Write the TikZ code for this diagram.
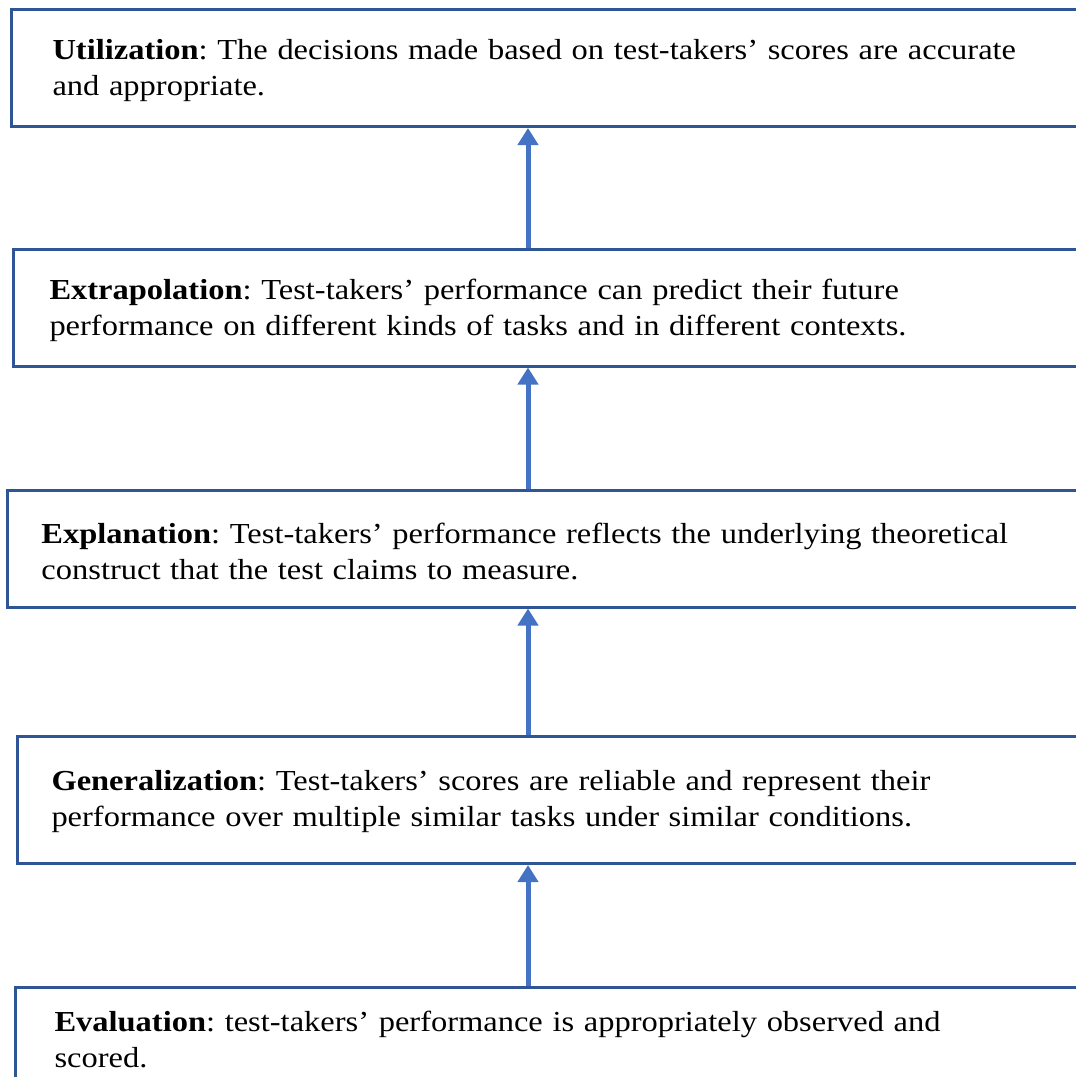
\documentclass[tikz,border=0pt]{standalone}
\usepackage{fontspec}
\setmainfont{Liberation Serif}[FakeStretch=1.12]
\usepackage{xcolor}
\usetikzlibrary{positioning, arrows.meta}
\frenchspacing

\definecolor{boxblue}{HTML}{2F5597}
\definecolor{arrowblue}{HTML}{4472C4}

\begin{document}
\begin{tikzpicture}[x=1pt, y=1pt, font=\fontsize{29}{36}\selectfont,
    claim/.style={draw=boxblue, line width=3pt, rectangle, anchor=west, align=left,
        text width=1150pt, minimum height=117pt, inner ysep=0pt,
        execute at begin node={\rule{0pt}{26pt}},
        execute at end node={\rule[-#1]{0pt}{0pt}}},
    claim/.default=6pt,
    flow/.style={arrowblue, line width=5pt, -{Triangle[length=17pt, width=20pt]}}]
    \useasboundingbox (0,0) rectangle (1076,-1077);
    \coordinate (spine) at (528,0);
    \node[claim, inner xsep=41pt] (uti) at (10,-68) {\textbf{Utilization}: The decisions made based on test-takers’ scores are accurate\\and appropriate.};
    \node[claim, inner xsep=36pt] (ext) at (12,-307.5) {\textbf{Extrapolation}: Test-takers’ performance can predict their future\\performance on different kinds of tasks and in different contexts.};
    \node[claim=0pt, inner xsep=34pt] (expl) at (6,-548.5) {\textbf{Explanation}: Test-takers’ performance reflects the underlying theoretical\\construct that the test claims to measure.};
    \node[claim=10pt, inner xsep=34pt, minimum height=127pt] (gen) at (16,-800) {\textbf{Generalization}: Test-takers’ scores are reliable and represent their\\performance over multiple similar tasks under similar conditions.};
    \node[claim=18pt, inner xsep=39pt] (eva) at (14,-1045.5) {\textbf{Evaluation}: test-takers’ performance is appropriately observed and\\scored.};
    \draw[flow] (eva.north -| spine) -- (gen.south -| spine);
    \draw[flow] (gen.north -| spine) -- (expl.south -| spine);
    \draw[flow] (expl.north -| spine) -- (ext.south -| spine);
    \draw[flow] (ext.north -| spine) -- (uti.south -| spine);
\end{tikzpicture}
\end{document}
